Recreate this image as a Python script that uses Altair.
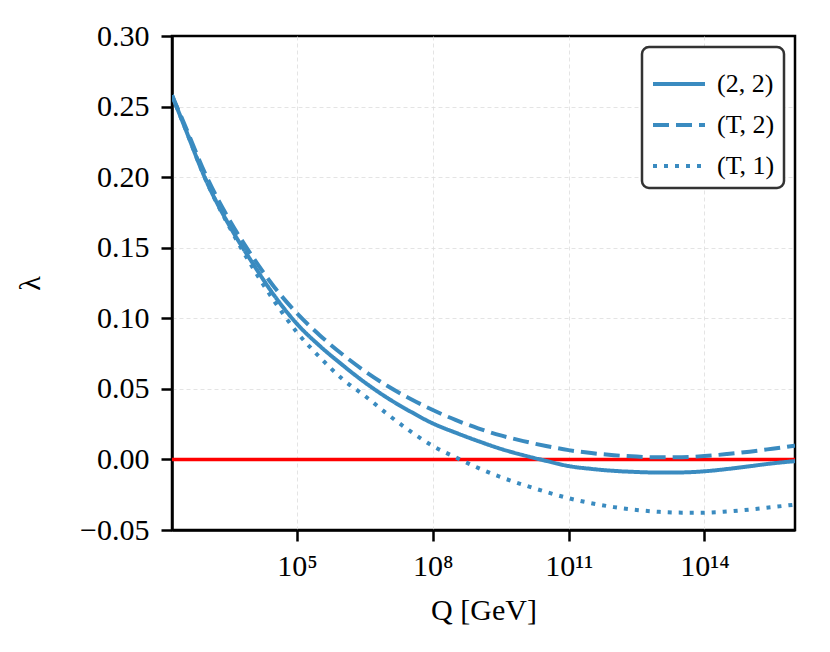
import altair as alt
import pandas as pd

# exponents of Q [GeV] (Q = 10**x)
log10_Q = [2.238, 2.5, 3.0, 3.5, 4.0, 4.5, 5.0, 5.5, 6.0, 6.5, 7.0, 7.5, 8.0, 8.5, 9.0,
           9.5, 10.0, 10.5, 11.0, 11.5, 12.0, 12.5, 13.0, 13.5, 14.0, 14.5, 15.0, 15.5, 16.0]

lam_22 = [0.258, 0.237, 0.197, 0.166, 0.140, 0.116, 0.096, 0.0805, 0.067, 0.0545, 0.0435,
          0.034, 0.0255, 0.019, 0.013, 0.0075, 0.003, -0.001, -0.0047, -0.0067, -0.0081,
          -0.0089, -0.0093, -0.0092, -0.0084, -0.0068, -0.0048, -0.0028, -0.0012]

lam_T2 = [0.258, 0.2385, 0.2005, 0.170, 0.1445, 0.122, 0.1035, 0.088, 0.0745, 0.0625, 0.052,
          0.043, 0.035, 0.028, 0.022, 0.017, 0.013, 0.0095, 0.0066, 0.0045, 0.003,
          0.002, 0.0015, 0.0016, 0.0024, 0.0038, 0.0055, 0.0076, 0.0098]

lam_T1 = [0.258, 0.237, 0.197, 0.165, 0.137, 0.112, 0.090, 0.0725, 0.057, 0.045, 0.032,
          0.020, 0.0095, 0.0015, -0.006, -0.0125, -0.018, -0.023, -0.0275, -0.031, -0.0338,
          -0.0358, -0.0371, -0.0377, -0.0377, -0.0369, -0.0355, -0.0338, -0.032]

series_labels = ["(2, 2)", "(T, 2)", "(T, 1)"]
series_values = [lam_22, lam_T2, lam_T1]

x_ticks = [1e5, 1e8, 1e11, 1e14]
y_ticks = [-0.05, 0.0, 0.05, 0.10, 0.15, 0.20, 0.25, 0.30]

BLUE = "#3a8bc0"
FONT = "Liberation Serif"

rows = []
for lab, vals in zip(series_labels, series_values):
    for e, v in zip(log10_Q, vals):
        rows.append({"Q": 10 ** e, "lam": v, "series": lab})
df = pd.DataFrame(rows)

zero_df = pd.DataFrame({"y": [0.0]})

x_scale = alt.Scale(type="log", domain=[173.1, 1e16], nice=False)
y_scale = alt.Scale(domain=[-0.05, 0.30], nice=False, zero=False)

label_expr = ("datum.value == 1e5 ? '10⁵' : datum.value == 1e8 ? '10⁸' : "
              "datum.value == 1e11 ? '10¹¹' : '10¹⁴'")

x_axis = alt.Axis(values=x_ticks, labelExpr=label_expr, title="Q  [GeV]",
                  titleFontSize=30, titleFont=FONT, titleFontWeight="normal",
                  titlePadding=14, labelFontSize=30, labelFont=FONT, labelPadding=10,
                  tickSize=11, tickWidth=2.5, tickColor="black",
                  domainColor="black", domainWidth=2.5,
                  grid=True, gridColor="#dddddd", gridDash=[4, 3], gridWidth=0.8,
                  labelColor="black", titleColor="black")

y_axis = alt.Axis(values=y_ticks, format=".2f", title="λ",
                  titleFontSize=30, titleFont=FONT, titleFontWeight="normal",
                  titlePadding=34, labelFontSize=30, labelFont=FONT, labelPadding=12,
                  tickSize=11, tickWidth=2.5, tickColor="black",
                  domainColor="black", domainWidth=2.5,
                  grid=True, gridColor="#dddddd", gridDash=[4, 3], gridWidth=0.8,
                  gridOpacity={"condition": {"test": "datum.value > 0.29 || datum.value < -0.04",
                                             "value": 0}, "value": 1},
                  labelColor="black", titleColor="black")

zero_rule = alt.Chart(zero_df).mark_rule(color="#ff0000", strokeWidth=3.5).encode(
    y=alt.Y("y:Q", scale=y_scale, axis=y_axis)
)

lines = alt.Chart(df).mark_line(color=BLUE, strokeWidth=4, interpolate="monotone",
                                clip=True, strokeCap="butt").encode(
    x=alt.X("Q:Q", scale=x_scale, axis=x_axis),
    y=alt.Y("lam:Q", scale=y_scale, axis=y_axis),
    strokeDash=alt.StrokeDash(
        "series:N",
        scale=alt.Scale(domain=series_labels, range=[[1, 0], [16, 7], [4, 7]]),
        sort=series_labels,
        legend=alt.Legend(orient="top-right", offset=11, title=None,
                          symbolType="stroke", symbolSize=2704, symbolStrokeWidth=4,
                          symbolStrokeColor=BLUE, labelFont=FONT, labelFontSize=26,
                          labelColor="black", labelOffset=10,
                          strokeColor="#333333", fillColor="white", cornerRadius=7,
                          padding=9, rowPadding=-12),
    ),
)

chart = alt.layer(zero_rule, lines).properties(
    width=623, height=494,
    autosize=alt.AutoSizeParams(type="none"),
    padding={"left": 164, "top": 28, "right": 20, "bottom": 100},
    background="white",
).configure_view(stroke="black", strokeWidth=2.5).configure_legend(strokeWidth=2.5)

chart.save("out.html", embed_options={"renderer": "svg", "actions": False})
